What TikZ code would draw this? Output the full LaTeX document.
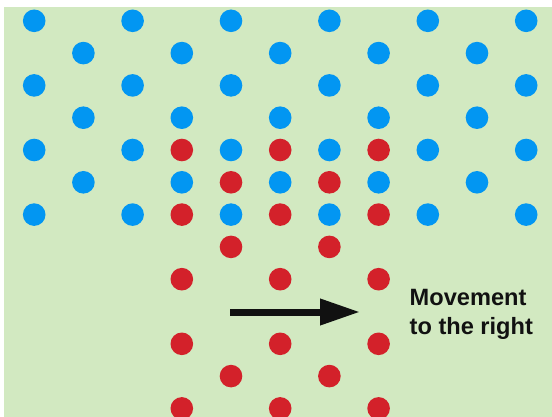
\documentclass[tikz,border=0pt]{standalone}
\usepackage{fontspec}
\setmainfont{Liberation Sans}
\usetikzlibrary{arrows.meta}
\definecolor{bg}{HTML}{D2E9C1}
\definecolor{dotblue}{HTML}{0296F2}
\definecolor{dotred}{HTML}{D3212A}
\definecolor{ink}{HTML}{111111}
\tikzset{
  dotbase/.style={circle, inner sep=0pt, minimum size=22.6pt},
  bluedot/.style={dotbase, fill=dotblue},
  reddot/.style={dotbase, fill=dotred},
  movearrow/.style={draw=ink, line width=7pt, -{Triangle[length=40pt,width=25pt]}},
  labeltext/.style={font=\bfseries\fontsize{23.6}{29}\selectfont, text=ink, align=left, inner sep=0pt}
}
\begin{document}
\begin{tikzpicture}[x=1pt,y=-1pt]
  \useasboundingbox (0,0) rectangle (552,417);
  \fill[bg] (4,7) rectangle (552,417);
  % blue lattice, rows 0..6
  \foreach \r in {0,...,6}{
    \foreach \k in {0,...,10}{
      \pgfmathparse{int(mod(\r+\k,2))}
      \ifnum\pgfmathresult=0
        \node[bluedot] (b-\r-\k) at ({34.2+49.2*\k},{20.8+32.3*\r}) {};
      \fi
    }
  }
  % red lattice, rows 4..12 (row 9 hidden by arrow)
  \foreach \r in {4,...,12}{
    \ifnum\r=9\else
    \foreach \k in {3,...,7}{
      \pgfmathparse{int(mod(\r+\k,2))}
      \ifnum\pgfmathresult=1
        \node[reddot] (r-\r-\k) at ({34.2+49.2*\k},{20.8+32.3*\r}) {};
      \fi
    }
    \fi
  }
  \coordinate (arrowstart) at (230,312);
  \coordinate (arrowend) at (360,312);
  \draw[movearrow] (arrowstart) -- (arrowend);
  \node[labeltext, anchor=base west] (label) at (409.5,334) {Movement\\to the right};
\end{tikzpicture}
\end{document}
